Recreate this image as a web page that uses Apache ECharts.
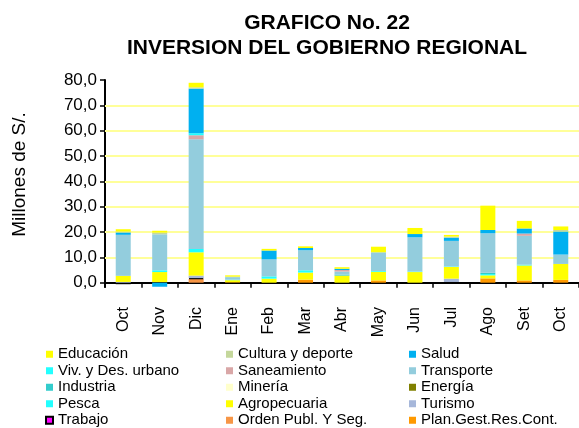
<!DOCTYPE html>
<html><head><meta charset="utf-8">
<script src="https://cdn.jsdelivr.net/npm/echarts@6/dist/echarts.min.js"></script>
<style>html,body{margin:0;padding:0;background:#fff}#c{width:579px;height:428px}</style>
</head><body><div id="c"></div>
<script>
const categories = ['Oct','Nov','Dic','Ene','Feb','Mar','Abr','May','Jun','Jul','Ago','Set','Oct'];
const yTicks = [0,10,20,30,40,50,60,70,80];
const gridValues = [10,20,30,40,50,60,70];

// stacked from bottom to top
const planGest    = [0, 0, 0, 0.2, 0, 1.2, 0, 0.9, 0, 0, 1.7, 0.9, 1.1];
const ordenPubl   = [0, 0, 1.5, 0, 0, 0, 0, 0, 0, 0, 0, 0, 0];
const trabajo     = [-0.6, 0.2, 0.3, null, null, null, null, null, null, 0.3, null, null, null];
const turismo     = [0.3, 0, 1.0, 0, 0, 0, 0, 0, 0, 1.3, 0, 0, 0];
const agropecuaria= [2.4, 4.0, 9.2, 0.8, 1.6, 2.8, 2.8, 3.4, 4.2, 4.6, 1.2, 5.9, 6.3];
const pesca       = [0, 0.7, 1.3, 0.2, 0.9, 0.9, 0, 0.3, 0.2, 0.2, 0.5, 0.3, 0];
const energia     = [0, 0, 0, 0, 0, 0, 0, 0, 0, 0, 0, 0, 0];
const mineria     = [0, 0, 0, 0, 0, 0, 0, 0, 0, 0, 0, 0, 0];
const industria   = [0, 0, 0, 0, 0, 0, 0.4, 0, 0, 0, 0.5, 0, 0];
const transporte  = [16.2, 14.2, 43.3, 1.0, 6.7, 7.9, 1.2, 7.4, 13.5, 10.1, 15.6, 11.4, 3.7];
const saneamiento = [0, 0, 1.6, 0, 0, 0, 0.6, 0, 0, 0, 0, 0.9, 0];
const vivienda    = [0, 0, 0.8, 0, 0, 0, 0, 0, 0, 0, 0, 0, 0];
const salud       = [0.9, -1.6, 17.6, 0, 3.5, 0.9, 0.5, 0, 1.3, 1.3, 1.3, 2.0, 9.1];
const cultura     = [0.4, 0.7, 0.5, 0.2, 0, 0, 0, 0, 0, 0.4, 0, 0, 0.6];
const educacion   = [0.9, 0.7, 1.8, 0.5, 0.65, 0.65, 0.6, 2.2, 2.4, 0.65, 9.6, 3.0, 1.4];

const seriesDefs = [
  ['Plan.Gest.Res.Cont.', planGest, '#FF9900'],
  ['Orden Publ. Y Seg.', ordenPubl, '#F79646'],
  ['Trabajo', trabajo, '#FF00FF'],
  ['Turismo', turismo, '#A6B7DA'],
  ['Agropecuaria', agropecuaria, '#FFFF00'],
  ['Pesca', pesca, '#22FFFF'],
  ['Energía', energia, '#808000'],
  ['Minería', mineria, '#FFFFCC'],
  ['Industria', industria, '#33CCCC'],
  ['Transporte', transporte, '#93CDDD'],
  ['Saneamiento', saneamiento, '#D9A7A7'],
  ['Viv. y Des. urbano', vivienda, '#22FFFF'],
  ['Salud', salud, '#00B0F0'],
  ['Cultura y deporte', cultura, '#C4D79B'],
  ['Educación', educacion, '#FFFF00']
];

const FONT = 'Liberation Sans, Arial, sans-serif';
const series = seriesDefs.map(([name, data, color], i) => {
  const s = {
    name, type: 'bar', stack: 'total', data, barWidth: 15,
    itemStyle: { color, borderWidth: 0 },
    emphasis: { disabled: true }
  };
  if (name === 'Trabajo') s.itemStyle = { color, borderColor: '#000', borderWidth: 1.5 };
  if (i === 0) {
    s.markLine = {
      silent: true, symbol: 'none', z: 1, label: { show: false },
      lineStyle: { color: '#FFFF99', width: 2, type: 'solid' },
      data: gridValues.map(v => ({ yAxis: v }))
    };
  }
  return s;
});

const legendBase = {
  orient: 'vertical', itemWidth: 7, itemHeight: 7, itemGap: 0, padding: 0,
  icon: 'rect', selectedMode: false, height: 100,
  textStyle: { fontFamily: FONT, fontSize: 15, color: '#000', lineHeight: 16.5 }
};

const chart = echarts.init(document.getElementById('c'), null, { renderer: 'canvas' });
chart.setOption({
  animation: false,
  backgroundColor: '#fff',
  title: {
    text: 'GRAFICO No. 22\nINVERSION DEL GOBIERNO REGIONAL',
    left: 322, top: 6, textAlign: 'center',
    textStyle: { fontFamily: FONT, fontSize: 21, fontWeight: 'bold', color: '#000', lineHeight: 25 }
  },
  grid: { left: 105, right: 0, top: 80, bottom: 141, containLabel: false },
  legend: [
    Object.assign({}, legendBase, { left: 45, top: 346, data: ['Educación','Viv. y Des. urbano','Industria','Pesca','Trabajo'] }),
    Object.assign({}, legendBase, { left: 226, top: 346, data: ['Cultura y deporte','Saneamiento','Minería','Agropecuaria','Orden Publ. Y Seg.'] }),
    Object.assign({}, legendBase, { left: 409, top: 346, data: ['Salud','Transporte','Energía','Turismo','Plan.Gest.Res.Cont.'] })
  ],
  xAxis: {
    type: 'category', data: categories,
    axisLine: { onZero: true, lineStyle: { color: '#000', width: 2 } },
    axisTick: { show: true, length: 5, lineStyle: { color: '#000', width: 1.5 } },
    axisLabel: { rotate: 90, fontFamily: FONT, fontSize: 16, color: '#000', margin: 20, interval: 0 },
    splitLine: { show: false }
  },
  yAxis: {
    type: 'value', min: -1.7, max: 80,
    name: 'Millones de S/.', nameLocation: 'middle', nameRotate: 90, nameGap: 76,
    nameTextStyle: { fontFamily: FONT, fontSize: 19, color: '#000', padding: [0, 0, 0, 18] },
    axisLine: { show: true, lineStyle: { color: '#000', width: 2 } },
    axisTick: { show: true, length: 5, lineStyle: { color: '#000', width: 1.5 }, customValues: yTicks },
    axisLabel: { fontFamily: FONT, fontSize: 17, color: '#000', margin: 8, customValues: yTicks,
      formatter: v => v.toFixed(1).replace('.', ',') },
    splitLine: { show: false }
  },
  series
});
</script></body></html>
